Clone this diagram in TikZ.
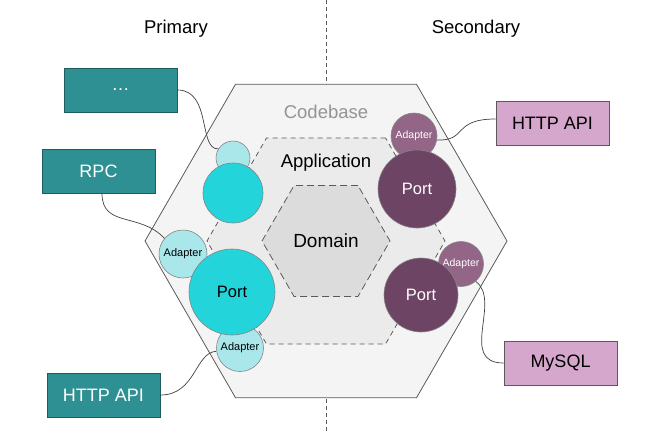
\documentclass[tikz,border=0pt]{standalone}
\usepackage{fontspec}
\setmainfont{Liberation Sans}
\usetikzlibrary{shapes.geometric}
\definecolor{tealbox}{HTML}{2E9092}
\definecolor{tealedge}{HTML}{1E5C5E}
\definecolor{pinkbox}{HTML}{D6A7CC}
\definecolor{lightcyan}{HTML}{A9E7EB}
\definecolor{cyanport}{HTML}{23D4DB}
\definecolor{plumport}{HTML}{6D4464}
\definecolor{plumadapter}{HTML}{936587}
\definecolor{outerfill}{HTML}{F4F4F4}
\definecolor{appfill}{HTML}{EBEBEB}
\definecolor{domfill}{HTML}{DCDCDC}
\definecolor{edgegray}{HTML}{5A5A5A}
\definecolor{ringgray}{HTML}{858585}
\tikzset{
  fs/.style={font=\fontsize{#1}{#1}\selectfont},
  hexa/.style={regular polygon, regular polygon sides=6, inner sep=0pt,
               minimum size=#1, line width=0.8pt, draw=edgegray},
  ext/.style={rectangle, minimum width=113pt, minimum height=44pt,
              inner sep=0pt, line width=0.8pt, fs=18},
  primbox/.style={ext, fill=tealbox, draw=tealedge, text=white},
  secbox/.style={ext, fill=pinkbox, draw=edgegray, text=black},
  ring/.style={circle, inner sep=0pt, minimum size=#1, draw=ringgray, line width=0.6pt},
  wire/.style={draw=black!75, line width=0.7pt},
  heading/.style={fs=18.5, text=black, anchor=base, inner sep=0pt}
}
\begin{document}
\begin{tikzpicture}[x=1pt, y=-1pt]
\useasboundingbox (0,0) rectangle (658,431);

% side divider
\coordinate (divtop) at (326,0);
\coordinate (divbot) at (326,431);
\draw[edgegray, line width=0.7pt, dash pattern=on 4pt off 3pt] (divtop) -- (divbot);

% hexagonal layers
\node[hexa=362pt, fill=outerfill] (codebase) at (326,241) {};
\node[hexa=238pt, fill=appfill, dashed, dash pattern=on 5pt off 4pt] (application) at (326,241) {};
\node[hexa=128pt, fill=domfill, dashed, dash pattern=on 7pt off 4pt] (domain) at (326,241) {};

\node[heading, text=black!42] (codebaselbl) at (326,118.5) {Codebase};
\node[heading] (applbl) at (326,167.5) {Application};
\node[heading, fs=19] (domlbl) at (326,247.5) {Domain};

% column headings
\node[heading] (primary) at (176,33) {Primary};
\node[heading] (secondary) at (476,33) {Secondary};

% external actors
\node[primbox] (dots) at (120.5,90) {\ldots};
\node[primbox] (rpc) at (98.5,171) {RPC};
\node[primbox] (httpin) at (103.5,395) {HTTP API};
\node[secbox] (httpout) at (552.5,123) {HTTP API};
\node[secbox] (mysql) at (560.5,363) {MySQL};

% primary adapters
\node[ring=34pt, fill=lightcyan] (adtop) at (233,158) {};
\node[ring=48pt, fill=lightcyan, fs=11] (adrpc) at (183,254) {Adapter};
\node[ring=47pt, fill=lightcyan, fs=11] (adhttp) at (240,348) {Adapter};

% secondary adapters
\node[ring=46pt, fill=plumadapter, text=white, fs=10.5] (adout) at (414,136) {Adapter};
\node[ring=45pt, fill=plumadapter, text=white, fs=10.5] (addb) at (461,264) {Adapter};

% connectors
\draw[wire] (dots.east) .. controls (212,90) and (198,150) .. (adtop.148);
\draw[wire] ([xshift=3.5pt]rpc.south) .. controls (102,228) and (140,212) .. (adrpc.140);
\draw[wire] (adhttp.188) .. controls (195,352) and (196,395) .. (httpin.east);
\draw[wire] (adout.350) .. controls (468,141) and (452,119) .. ([yshift=4pt]httpout.west);
\draw[wire] (addb.310) .. controls (502,300) and (458,363) .. (mysql.west);

% ports
\node[ring=60pt, fill=cyanport] (porttop) at (233,193) {};
\node[ring=86pt, fill=cyanport, fs=16.5] (portin) at (232,292) {Port};
\node[ring=78pt, fill=plumport, text=white, fs=16.5] (portout) at (417,189) {Port};
\node[ring=74pt, fill=plumport, text=white, fs=16.5] (portdb) at (421,295) {Port};
\end{tikzpicture}
\end{document}
